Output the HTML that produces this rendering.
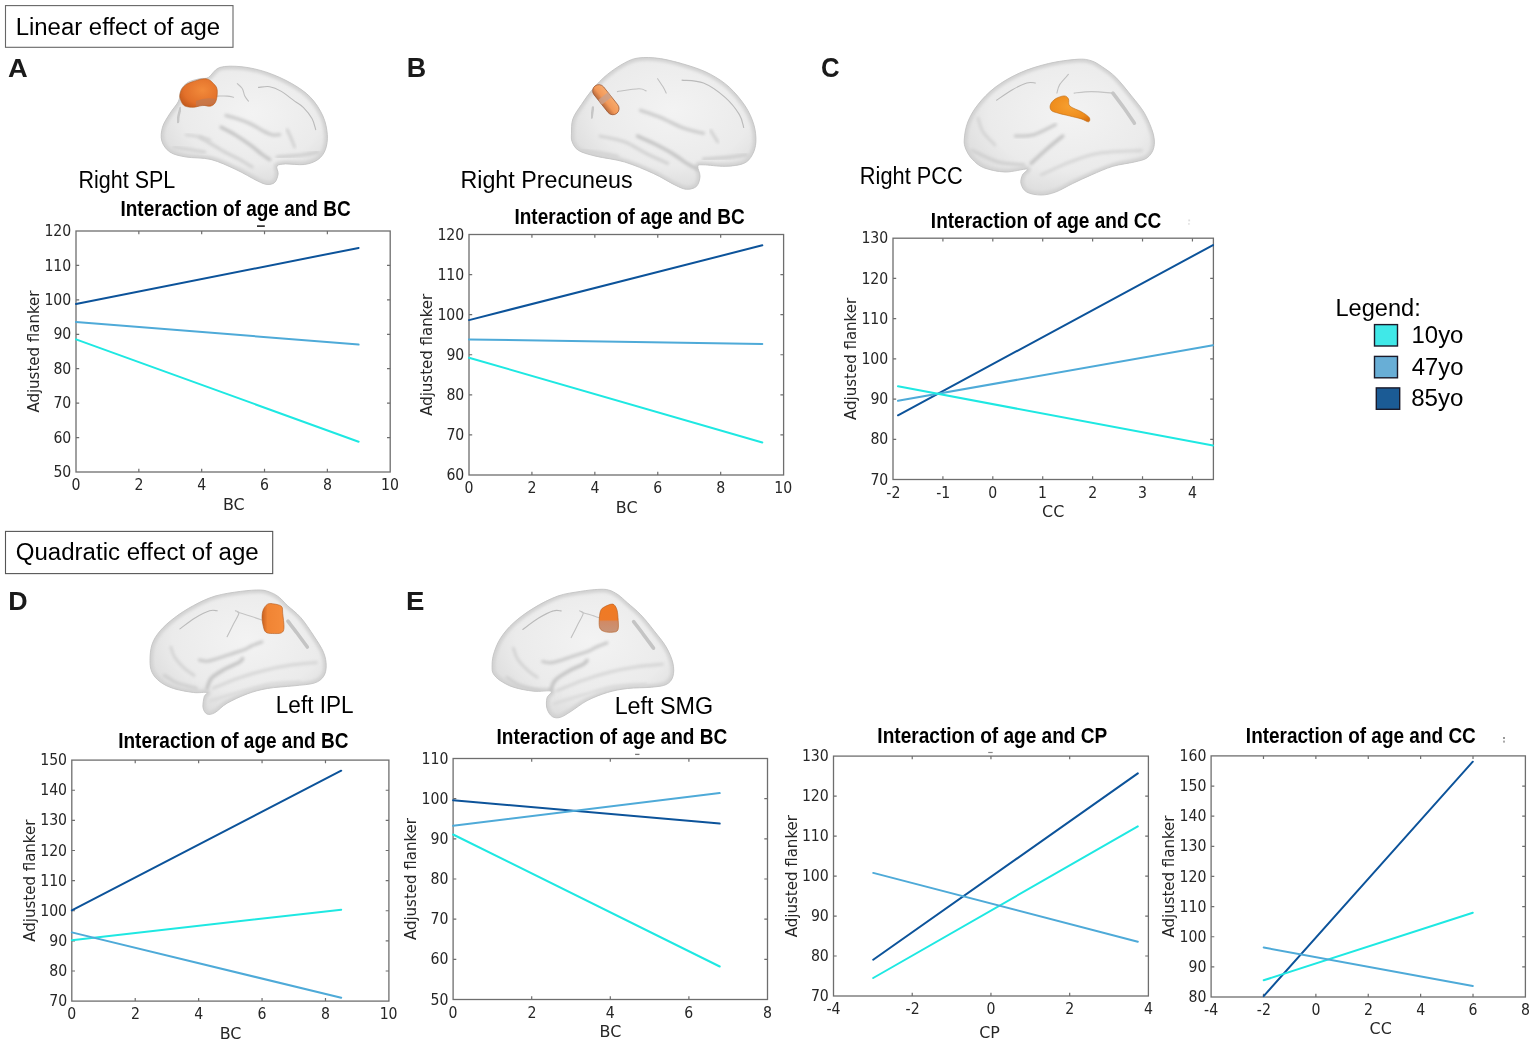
<!DOCTYPE html>
<html><head><meta charset="utf-8"><title>Figure</title>
<style>html,body{margin:0;padding:0;background:#fff;}svg{display:block;}</style></head>
<body><svg width="1535" height="1045" viewBox="0 0 1535 1045">
<defs>
<radialGradient id="brainfill" cx="0.55" cy="0.4" r="0.65"><stop offset="0" stop-color="#f3f3f3"/><stop offset="0.65" stop-color="#ebebeb"/><stop offset="1" stop-color="#dadada"/></radialGradient>
<radialGradient id="orA" cx="0.6" cy="0.4" r="0.7"><stop offset="0" stop-color="#f28a3a"/><stop offset="0.7" stop-color="#e2702a"/><stop offset="1" stop-color="#c45a1c"/></radialGradient>
<radialGradient id="orC" cx="0.5" cy="0.4" r="0.7"><stop offset="0" stop-color="#f7a030"/><stop offset="0.7" stop-color="#ee8c1c"/><stop offset="1" stop-color="#d87010"/></radialGradient>
<linearGradient id="orB" x1="0" y1="0" x2="0" y2="1"><stop offset="0" stop-color="#f7aa6c"/><stop offset="0.6" stop-color="#f29858"/><stop offset="1" stop-color="#b86a3c"/></linearGradient>
<linearGradient id="orD" x1="0" y1="0" x2="1" y2="0"><stop offset="0" stop-color="#c86020"/><stop offset="0.25" stop-color="#f08434"/><stop offset="1" stop-color="#f58c3c"/></linearGradient>
<linearGradient id="orE" x1="0" y1="0" x2="0" y2="1"><stop offset="0" stop-color="#f07a22"/><stop offset="0.55" stop-color="#ee7a28"/><stop offset="0.62" stop-color="#d08a66"/><stop offset="1" stop-color="#c89478"/></linearGradient>
<filter id="blur1" x="-20%" y="-20%" width="140%" height="140%"><feGaussianBlur stdDeviation="0.5"/></filter>
<filter id="blur2" x="-20%" y="-20%" width="140%" height="140%"><feGaussianBlur stdDeviation="1.6"/></filter>
</defs>
<rect width="1535" height="1045" fill="#fff"/>
<rect x="5.5" y="5.6" width="227.5" height="41.7" fill="none" stroke="#666" stroke-width="1.1"/>
<text x="15.69" y="35.00" font-family='"Liberation Sans", Arial, sans-serif' font-size="24.06" fill="#000" textLength="204.38" lengthAdjust="spacingAndGlyphs">Linear effect of age</text>
<rect x="5.5" y="531.4" width="267.2" height="42.2" fill="none" stroke="#555" stroke-width="1.1"/>
<text x="15.72" y="560.40" font-family='"Liberation Sans", Arial, sans-serif' font-size="23.91" fill="#000" textLength="242.95" lengthAdjust="spacingAndGlyphs">Quadratic effect of age</text>
<text x="7.92" y="76.60" font-family='"Liberation Sans", Arial, sans-serif' font-size="26.67" font-weight="bold" fill="#1a1a1a" textLength="19.73" lengthAdjust="spacingAndGlyphs">A</text>
<text x="406.65" y="76.50" font-family='"Liberation Sans", Arial, sans-serif' font-size="27.54" font-weight="bold" fill="#1a1a1a" textLength="19.42" lengthAdjust="spacingAndGlyphs">B</text>
<text x="821.07" y="76.50" font-family='"Liberation Sans", Arial, sans-serif' font-size="27.83" font-weight="bold" fill="#1a1a1a" textLength="18.63" lengthAdjust="spacingAndGlyphs">C</text>
<text x="8.26" y="609.70" font-family='"Liberation Sans", Arial, sans-serif' font-size="25.65" font-weight="bold" fill="#1a1a1a" textLength="19.38" lengthAdjust="spacingAndGlyphs">D</text>
<text x="406.01" y="609.60" font-family='"Liberation Sans", Arial, sans-serif' font-size="25.80" font-weight="bold" fill="#1a1a1a" textLength="18.42" lengthAdjust="spacingAndGlyphs">E</text>
<clipPath id="bc1"><path d="M208.5 77.4C211.8 75.5 214.1 69.3 219.7 67.5C225.3 65.7 234.2 66.0 242.1 66.8C250.0 67.6 258.7 69.6 267.0 72.4C275.3 75.2 284.6 79.4 291.8 83.6C299.1 87.8 305.3 91.9 310.5 97.3C315.7 102.7 320.1 109.8 322.9 116.0C325.7 122.2 326.9 129.0 327.3 134.6C327.7 140.2 326.9 145.4 325.4 149.6C323.8 153.8 321.5 157.0 318.0 159.5C314.5 162.0 309.7 163.8 304.3 164.5C298.9 165.2 290.2 163.7 285.6 163.9C281.1 164.2 278.2 164.3 277.0 166.0C275.8 167.7 278.5 171.3 278.1 174.0C277.7 176.7 276.6 180.7 274.7 182.4C272.8 184.1 269.9 184.7 267.0 184.4C264.1 184.1 262.2 183.2 257.0 180.7C251.8 178.2 243.6 173.0 235.9 169.5C228.2 166.0 219.3 161.6 211.0 159.5C202.7 157.4 192.9 158.2 186.1 157.0C179.2 155.8 173.9 154.7 169.9 152.0C165.9 149.3 163.0 145.0 161.8 140.9C160.6 136.8 161.2 131.8 162.5 127.2C163.8 122.6 167.2 117.9 169.9 113.5C172.6 109.1 176.8 104.9 178.6 101.0C180.4 97.1 179.4 93.1 181.0 90.0C182.6 86.9 184.8 84.3 188.0 82.4C191.2 80.5 196.6 79.5 200.0 78.7C203.4 77.9 205.2 79.3 208.5 77.4Z"/></clipPath>
<path d="M208.5 77.4C211.8 75.5 214.1 69.3 219.7 67.5C225.3 65.7 234.2 66.0 242.1 66.8C250.0 67.6 258.7 69.6 267.0 72.4C275.3 75.2 284.6 79.4 291.8 83.6C299.1 87.8 305.3 91.9 310.5 97.3C315.7 102.7 320.1 109.8 322.9 116.0C325.7 122.2 326.9 129.0 327.3 134.6C327.7 140.2 326.9 145.4 325.4 149.6C323.8 153.8 321.5 157.0 318.0 159.5C314.5 162.0 309.7 163.8 304.3 164.5C298.9 165.2 290.2 163.7 285.6 163.9C281.1 164.2 278.2 164.3 277.0 166.0C275.8 167.7 278.5 171.3 278.1 174.0C277.7 176.7 276.6 180.7 274.7 182.4C272.8 184.1 269.9 184.7 267.0 184.4C264.1 184.1 262.2 183.2 257.0 180.7C251.8 178.2 243.6 173.0 235.9 169.5C228.2 166.0 219.3 161.6 211.0 159.5C202.7 157.4 192.9 158.2 186.1 157.0C179.2 155.8 173.9 154.7 169.9 152.0C165.9 149.3 163.0 145.0 161.8 140.9C160.6 136.8 161.2 131.8 162.5 127.2C163.8 122.6 167.2 117.9 169.9 113.5C172.6 109.1 176.8 104.9 178.6 101.0C180.4 97.1 179.4 93.1 181.0 90.0C182.6 86.9 184.8 84.3 188.0 82.4C191.2 80.5 196.6 79.5 200.0 78.7C203.4 77.9 205.2 79.3 208.5 77.4Z" fill="url(#brainfill)"/>
<g clip-path="url(#bc1)">
<path d="M208.5 77.4C211.8 75.5 214.1 69.3 219.7 67.5C225.3 65.7 234.2 66.0 242.1 66.8C250.0 67.6 258.7 69.6 267.0 72.4C275.3 75.2 284.6 79.4 291.8 83.6C299.1 87.8 305.3 91.9 310.5 97.3C315.7 102.7 320.1 109.8 322.9 116.0C325.7 122.2 326.9 129.0 327.3 134.6C327.7 140.2 326.9 145.4 325.4 149.6C323.8 153.8 321.5 157.0 318.0 159.5C314.5 162.0 309.7 163.8 304.3 164.5C298.9 165.2 290.2 163.7 285.6 163.9C281.1 164.2 278.2 164.3 277.0 166.0C275.8 167.7 278.5 171.3 278.1 174.0C277.7 176.7 276.6 180.7 274.7 182.4C272.8 184.1 269.9 184.7 267.0 184.4C264.1 184.1 262.2 183.2 257.0 180.7C251.8 178.2 243.6 173.0 235.9 169.5C228.2 166.0 219.3 161.6 211.0 159.5C202.7 157.4 192.9 158.2 186.1 157.0C179.2 155.8 173.9 154.7 169.9 152.0C165.9 149.3 163.0 145.0 161.8 140.9C160.6 136.8 161.2 131.8 162.5 127.2C163.8 122.6 167.2 117.9 169.9 113.5C172.6 109.1 176.8 104.9 178.6 101.0C180.4 97.1 179.4 93.1 181.0 90.0C182.6 86.9 184.8 84.3 188.0 82.4C191.2 80.5 196.6 79.5 200.0 78.7C203.4 77.9 205.2 79.3 208.5 77.4Z" fill="none" stroke="#d2d2d2" stroke-width="6" filter="url(#blur2)"/>
<path d="M258.5 87.4C260.4 87.3 266.0 86.1 269.7 86.7C273.4 87.3 276.8 88.7 280.9 91.1C285.0 93.5 290.9 98.4 294.6 101.1C298.3 103.8 300.4 104.4 303.3 107.3C306.2 110.2 309.9 114.8 312.0 118.5C314.1 122.2 315.1 127.8 315.7 129.7" fill="none" stroke="#bababa" stroke-width="1.1" stroke-linecap="round" filter="url(#blur1)"/>
<path d="M237.3 83.6C238.1 84.4 241.1 86.5 242.3 88.6C243.6 90.7 243.8 94.0 244.8 96.1C245.8 98.2 247.9 100.3 248.5 101.1" fill="none" stroke="#c0c0c0" stroke-width="1.1" stroke-linecap="round" filter="url(#blur1)"/>
<path d="M217.4 96.1C219.1 96.1 224.7 95.9 227.4 96.1C230.1 96.3 232.6 97.1 233.6 97.3" fill="none" stroke="#c0c0c0" stroke-width="1.1" stroke-linecap="round" filter="url(#blur1)"/>
<path d="M226.0 115.5C227.9 116.0 233.3 117.4 237.3 118.7C241.3 120.0 245.7 121.5 249.8 123.5C254.0 125.5 258.5 128.6 262.2 130.5C265.9 132.4 269.3 134.1 272.2 134.8C275.1 135.5 278.4 134.6 279.6 134.6" fill="none" stroke="#cbcbcb" stroke-width="3.2" stroke-linecap="round" filter="url(#blur2)"/>
<path d="M221.1 127.2C223.4 128.4 230.0 131.7 234.8 134.6C239.6 137.5 245.2 141.3 249.8 144.6C254.4 147.9 258.9 152.0 262.2 154.5C265.5 157.0 268.4 158.7 269.7 159.5" fill="none" stroke="#c4c4c4" stroke-width="3.4" stroke-linecap="round" filter="url(#blur2)"/>
<path d="M200.0 137.1C202.1 138.3 208.2 142.1 212.4 144.6C216.6 147.1 220.3 149.6 224.9 152.1C229.5 154.6 235.2 157.0 239.8 159.5C244.4 162.0 250.1 165.8 252.2 167.0" fill="none" stroke="#d0d0d0" stroke-width="3.0" stroke-linecap="round" filter="url(#blur2)"/>
<path d="M277.1 157.0C279.8 156.8 288.5 156.2 293.3 155.8C298.1 155.4 301.6 155.1 305.7 154.5C309.8 153.9 316.1 152.5 318.2 152.1" fill="none" stroke="#cdcdcd" stroke-width="3.2" stroke-linecap="round" filter="url(#blur2)"/>
<path d="M287.1 129.7C287.8 131.1 289.8 135.1 291.0 138.0C292.2 140.9 294.0 145.6 294.6 147.1" fill="none" stroke="#cecece" stroke-width="2.6" stroke-linecap="round" filter="url(#blur2)"/>
<path d="M180.5 108.0C180.2 109.3 178.9 113.7 178.5 116.0C178.1 118.3 178.1 121.0 178.0 122.0" fill="none" stroke="#c6c6c6" stroke-width="2.5" stroke-linecap="round" filter="url(#blur1)"/>
<path d="M173.7 147.1C176.2 147.5 183.8 148.7 189.0 149.5C194.2 150.3 202.2 151.7 204.8 152.1" fill="none" stroke="#d2d2d2" stroke-width="3.0" stroke-linecap="round" filter="url(#blur2)"/>
<path d="M186.1 134.7C188.4 135.1 196.0 136.1 200.0 137.0C204.0 137.9 208.3 139.5 210.0 140.0" fill="none" stroke="#d2d2d2" stroke-width="2.6" stroke-linecap="round" filter="url(#blur2)"/>
</g>
<path d="M208.5 77.4C211.8 75.5 214.1 69.3 219.7 67.5C225.3 65.7 234.2 66.0 242.1 66.8C250.0 67.6 258.7 69.6 267.0 72.4C275.3 75.2 284.6 79.4 291.8 83.6C299.1 87.8 305.3 91.9 310.5 97.3C315.7 102.7 320.1 109.8 322.9 116.0C325.7 122.2 326.9 129.0 327.3 134.6C327.7 140.2 326.9 145.4 325.4 149.6C323.8 153.8 321.5 157.0 318.0 159.5C314.5 162.0 309.7 163.8 304.3 164.5C298.9 165.2 290.2 163.7 285.6 163.9C281.1 164.2 278.2 164.3 277.0 166.0C275.8 167.7 278.5 171.3 278.1 174.0C277.7 176.7 276.6 180.7 274.7 182.4C272.8 184.1 269.9 184.7 267.0 184.4C264.1 184.1 262.2 183.2 257.0 180.7C251.8 178.2 243.6 173.0 235.9 169.5C228.2 166.0 219.3 161.6 211.0 159.5C202.7 157.4 192.9 158.2 186.1 157.0C179.2 155.8 173.9 154.7 169.9 152.0C165.9 149.3 163.0 145.0 161.8 140.9C160.6 136.8 161.2 131.8 162.5 127.2C163.8 122.6 167.2 117.9 169.9 113.5C172.6 109.1 176.8 104.9 178.6 101.0C180.4 97.1 179.4 93.1 181.0 90.0C182.6 86.9 184.8 84.3 188.0 82.4C191.2 80.5 196.6 79.5 200.0 78.7C203.4 77.9 205.2 79.3 208.5 77.4Z" fill="none" stroke="#c4c4c4" stroke-width="0.9"/>
<path d="M179.9 94.8C180.3 92.4 181.5 88.9 183.6 86.7C185.7 84.5 188.6 83.1 192.3 81.8C196.0 80.5 202.5 78.4 206.0 78.7C209.5 79.0 211.6 81.7 213.5 83.6C215.4 85.5 216.8 87.0 217.2 89.9C217.6 92.8 217.0 98.3 216.0 101.0C215.0 103.7 213.3 105.3 211.0 106.0C208.7 106.7 205.2 105.2 202.3 105.4C199.4 105.6 196.5 107.2 193.6 107.3C190.7 107.4 187.0 107.0 184.9 106.0C182.8 105.0 181.9 102.9 181.1 101.0C180.3 99.1 179.5 97.2 179.9 94.8Z" fill="url(#orA)" stroke="#b35a1e" stroke-width="0.6"/>
<path d="M196 101 Q205 97 216 99 L214 104 Q205 107 196 106Z" fill="#b47a5c" opacity="0.55"/>
<clipPath id="bc2"><path d="M571.5 133.2C571.6 129.4 571.2 123.7 572.9 118.9C574.6 114.1 578.1 109.5 581.5 104.5C584.9 99.5 588.7 93.8 593.0 88.8C597.3 83.8 602.1 78.7 607.4 74.4C612.7 70.1 619.4 65.7 624.6 62.9C629.9 60.1 632.9 58.6 638.9 57.9C644.9 57.2 652.1 57.3 660.5 58.6C668.9 59.9 680.8 63.2 689.2 65.8C697.6 68.4 704.0 70.8 710.7 74.4C717.4 78.0 723.6 82.0 729.4 87.3C735.1 92.6 741.1 99.8 745.2 106.0C749.3 112.2 752.0 118.6 753.8 124.6C755.6 130.6 756.1 136.9 755.9 141.9C755.6 146.9 754.3 151.2 752.3 154.8C750.3 158.4 748.2 161.5 743.7 163.4C739.2 165.3 731.8 166.1 725.1 166.3C718.4 166.5 708.0 164.8 703.5 164.8C699.0 164.8 698.4 164.4 697.8 166.3C697.2 168.2 700.2 173.0 700.0 176.3C699.8 179.7 698.7 184.2 696.4 186.4C694.1 188.6 689.9 189.4 686.3 189.2C682.7 188.9 680.3 187.5 674.8 184.9C669.3 182.3 661.7 177.2 653.3 173.4C644.9 169.6 634.2 164.9 624.6 162.0C615.0 159.1 603.5 158.1 595.9 156.2C588.2 154.3 582.7 152.9 578.7 150.5C574.8 148.1 573.4 144.8 572.2 141.9C571.0 139.0 571.4 137.0 571.5 133.2Z"/></clipPath>
<path d="M571.5 133.2C571.6 129.4 571.2 123.7 572.9 118.9C574.6 114.1 578.1 109.5 581.5 104.5C584.9 99.5 588.7 93.8 593.0 88.8C597.3 83.8 602.1 78.7 607.4 74.4C612.7 70.1 619.4 65.7 624.6 62.9C629.9 60.1 632.9 58.6 638.9 57.9C644.9 57.2 652.1 57.3 660.5 58.6C668.9 59.9 680.8 63.2 689.2 65.8C697.6 68.4 704.0 70.8 710.7 74.4C717.4 78.0 723.6 82.0 729.4 87.3C735.1 92.6 741.1 99.8 745.2 106.0C749.3 112.2 752.0 118.6 753.8 124.6C755.6 130.6 756.1 136.9 755.9 141.9C755.6 146.9 754.3 151.2 752.3 154.8C750.3 158.4 748.2 161.5 743.7 163.4C739.2 165.3 731.8 166.1 725.1 166.3C718.4 166.5 708.0 164.8 703.5 164.8C699.0 164.8 698.4 164.4 697.8 166.3C697.2 168.2 700.2 173.0 700.0 176.3C699.8 179.7 698.7 184.2 696.4 186.4C694.1 188.6 689.9 189.4 686.3 189.2C682.7 188.9 680.3 187.5 674.8 184.9C669.3 182.3 661.7 177.2 653.3 173.4C644.9 169.6 634.2 164.9 624.6 162.0C615.0 159.1 603.5 158.1 595.9 156.2C588.2 154.3 582.7 152.9 578.7 150.5C574.8 148.1 573.4 144.8 572.2 141.9C571.0 139.0 571.4 137.0 571.5 133.2Z" fill="url(#brainfill)"/>
<g clip-path="url(#bc2)">
<path d="M571.5 133.2C571.6 129.4 571.2 123.7 572.9 118.9C574.6 114.1 578.1 109.5 581.5 104.5C584.9 99.5 588.7 93.8 593.0 88.8C597.3 83.8 602.1 78.7 607.4 74.4C612.7 70.1 619.4 65.7 624.6 62.9C629.9 60.1 632.9 58.6 638.9 57.9C644.9 57.2 652.1 57.3 660.5 58.6C668.9 59.9 680.8 63.2 689.2 65.8C697.6 68.4 704.0 70.8 710.7 74.4C717.4 78.0 723.6 82.0 729.4 87.3C735.1 92.6 741.1 99.8 745.2 106.0C749.3 112.2 752.0 118.6 753.8 124.6C755.6 130.6 756.1 136.9 755.9 141.9C755.6 146.9 754.3 151.2 752.3 154.8C750.3 158.4 748.2 161.5 743.7 163.4C739.2 165.3 731.8 166.1 725.1 166.3C718.4 166.5 708.0 164.8 703.5 164.8C699.0 164.8 698.4 164.4 697.8 166.3C697.2 168.2 700.2 173.0 700.0 176.3C699.8 179.7 698.7 184.2 696.4 186.4C694.1 188.6 689.9 189.4 686.3 189.2C682.7 188.9 680.3 187.5 674.8 184.9C669.3 182.3 661.7 177.2 653.3 173.4C644.9 169.6 634.2 164.9 624.6 162.0C615.0 159.1 603.5 158.1 595.9 156.2C588.2 154.3 582.7 152.9 578.7 150.5C574.8 148.1 573.4 144.8 572.2 141.9C571.0 139.0 571.4 137.0 571.5 133.2Z" fill="none" stroke="#d2d2d2" stroke-width="6" filter="url(#blur2)"/>
<path d="M682.0 80.1C685.6 80.6 696.3 80.1 703.5 83.0C710.7 85.9 719.1 92.1 725.1 97.4C731.1 102.7 736.3 109.6 739.4 114.6C742.5 119.6 743.0 125.3 743.7 127.5" fill="none" stroke="#bababa" stroke-width="1.1" stroke-linecap="round" filter="url(#blur1)"/>
<path d="M657.6 78.7C658.5 80.1 661.9 84.9 663.3 87.3C664.7 89.7 665.7 92.1 666.2 93.1" fill="none" stroke="#c0c0c0" stroke-width="1.1" stroke-linecap="round" filter="url(#blur1)"/>
<path d="M617.4 91.6C621.0 91.1 634.1 88.9 638.9 88.8C643.7 88.7 644.9 90.6 646.1 90.9" fill="none" stroke="#c0c0c0" stroke-width="1.1" stroke-linecap="round" filter="url(#blur1)"/>
<path d="M640.4 110.3C643.8 111.5 653.6 114.6 660.5 117.5C667.4 120.4 676.0 125.1 682.0 127.5C688.0 129.9 692.8 130.8 696.4 131.8C700.0 132.8 702.3 133.1 703.5 133.3" fill="none" stroke="#cbcbcb" stroke-width="3.2" stroke-linecap="round" filter="url(#blur2)"/>
<path d="M637.5 136.1C640.1 137.3 647.5 140.4 653.3 143.3C659.0 146.2 666.0 149.7 672.0 153.3C678.0 156.9 684.9 162.2 689.2 164.8C693.5 167.4 696.4 168.4 697.8 169.1" fill="none" stroke="#c4c4c4" stroke-width="3.4" stroke-linecap="round" filter="url(#blur2)"/>
<path d="M600.2 136.1C604.3 137.1 617.0 139.0 624.6 141.9C632.2 144.8 638.9 149.7 646.1 153.3C653.3 156.9 664.1 161.7 667.7 163.4" fill="none" stroke="#d0d0d0" stroke-width="3.0" stroke-linecap="round" filter="url(#blur2)"/>
<path d="M703.5 159.1C707.1 158.9 717.9 158.4 725.1 157.7C732.3 157.0 743.0 155.3 746.6 154.8" fill="none" stroke="#cdcdcd" stroke-width="3.2" stroke-linecap="round" filter="url(#blur2)"/>
<path d="M710.7 130.4C711.2 131.3 712.8 134.1 714.0 136.0C715.2 137.9 717.2 140.9 717.9 141.9" fill="none" stroke="#cecece" stroke-width="2.6" stroke-linecap="round" filter="url(#blur2)"/>
<path d="M593.0 107.4C592.8 109.1 591.8 115.8 591.6 117.5" fill="none" stroke="#c6c6c6" stroke-width="2.5" stroke-linecap="round" filter="url(#blur1)"/>
<path d="M581.5 150.5C584.6 150.9 594.0 152.1 600.0 153.0C606.0 153.9 614.5 155.7 617.4 156.2" fill="none" stroke="#d2d2d2" stroke-width="3.0" stroke-linecap="round" filter="url(#blur2)"/>
</g>
<path d="M571.5 133.2C571.6 129.4 571.2 123.7 572.9 118.9C574.6 114.1 578.1 109.5 581.5 104.5C584.9 99.5 588.7 93.8 593.0 88.8C597.3 83.8 602.1 78.7 607.4 74.4C612.7 70.1 619.4 65.7 624.6 62.9C629.9 60.1 632.9 58.6 638.9 57.9C644.9 57.2 652.1 57.3 660.5 58.6C668.9 59.9 680.8 63.2 689.2 65.8C697.6 68.4 704.0 70.8 710.7 74.4C717.4 78.0 723.6 82.0 729.4 87.3C735.1 92.6 741.1 99.8 745.2 106.0C749.3 112.2 752.0 118.6 753.8 124.6C755.6 130.6 756.1 136.9 755.9 141.9C755.6 146.9 754.3 151.2 752.3 154.8C750.3 158.4 748.2 161.5 743.7 163.4C739.2 165.3 731.8 166.1 725.1 166.3C718.4 166.5 708.0 164.8 703.5 164.8C699.0 164.8 698.4 164.4 697.8 166.3C697.2 168.2 700.2 173.0 700.0 176.3C699.8 179.7 698.7 184.2 696.4 186.4C694.1 188.6 689.9 189.4 686.3 189.2C682.7 188.9 680.3 187.5 674.8 184.9C669.3 182.3 661.7 177.2 653.3 173.4C644.9 169.6 634.2 164.9 624.6 162.0C615.0 159.1 603.5 158.1 595.9 156.2C588.2 154.3 582.7 152.9 578.7 150.5C574.8 148.1 573.4 144.8 572.2 141.9C571.0 139.0 571.4 137.0 571.5 133.2Z" fill="none" stroke="#c4c4c4" stroke-width="0.9"/>
<g transform="translate(605.85,99.7) rotate(51.6)"><rect x="-17.5" y="-6.2" width="35" height="12.4" rx="6.2" fill="url(#orB)" stroke="#9a5530" stroke-width="0.7"/><rect x="-4.5" y="-6.2" width="6" height="12.4" fill="#c9a08c" opacity="0.8"/></g>
<clipPath id="bc3"><path d="M964.3 139.0C964.6 134.5 965.6 127.5 967.9 121.8C970.2 116.0 973.5 110.2 978.0 104.5C982.5 98.8 988.3 92.5 995.2 87.3C1002.1 82.0 1010.8 77.0 1019.6 73.0C1028.5 69.0 1038.7 65.9 1048.3 63.6C1057.9 61.3 1069.8 59.8 1077.0 59.3C1084.2 58.8 1087.1 59.5 1091.4 60.8C1095.7 62.1 1098.7 64.5 1102.8 67.2C1106.9 70.0 1111.0 72.5 1115.8 77.3C1120.6 82.1 1126.7 89.9 1131.5 95.9C1136.3 101.9 1140.9 107.0 1144.5 113.2C1148.1 119.4 1151.5 127.6 1153.1 133.3C1154.6 139.0 1154.8 143.5 1153.8 147.6C1152.8 151.7 1150.5 155.3 1147.3 157.7C1144.1 160.1 1140.1 160.6 1134.4 162.0C1128.7 163.4 1120.1 164.2 1112.9 166.3C1105.7 168.5 1098.1 172.0 1091.4 174.9C1084.7 177.8 1078.7 180.6 1072.7 183.5C1066.7 186.4 1060.8 190.2 1055.5 192.1C1050.2 194.0 1045.9 195.0 1041.1 195.0C1036.3 195.0 1030.1 194.0 1026.8 192.1C1023.4 190.2 1021.7 186.4 1021.0 183.5C1020.3 180.6 1021.5 177.3 1022.5 174.9C1023.5 172.5 1029.7 169.6 1026.8 169.1C1023.9 168.6 1012.4 172.2 1005.2 172.0C998.0 171.8 989.2 169.8 983.7 167.7C978.2 165.5 975.2 162.2 972.2 159.1C969.2 156.0 967.1 152.3 965.8 149.0C964.5 145.7 963.9 143.5 964.3 139.0Z"/></clipPath>
<path d="M964.3 139.0C964.6 134.5 965.6 127.5 967.9 121.8C970.2 116.0 973.5 110.2 978.0 104.5C982.5 98.8 988.3 92.5 995.2 87.3C1002.1 82.0 1010.8 77.0 1019.6 73.0C1028.5 69.0 1038.7 65.9 1048.3 63.6C1057.9 61.3 1069.8 59.8 1077.0 59.3C1084.2 58.8 1087.1 59.5 1091.4 60.8C1095.7 62.1 1098.7 64.5 1102.8 67.2C1106.9 70.0 1111.0 72.5 1115.8 77.3C1120.6 82.1 1126.7 89.9 1131.5 95.9C1136.3 101.9 1140.9 107.0 1144.5 113.2C1148.1 119.4 1151.5 127.6 1153.1 133.3C1154.6 139.0 1154.8 143.5 1153.8 147.6C1152.8 151.7 1150.5 155.3 1147.3 157.7C1144.1 160.1 1140.1 160.6 1134.4 162.0C1128.7 163.4 1120.1 164.2 1112.9 166.3C1105.7 168.5 1098.1 172.0 1091.4 174.9C1084.7 177.8 1078.7 180.6 1072.7 183.5C1066.7 186.4 1060.8 190.2 1055.5 192.1C1050.2 194.0 1045.9 195.0 1041.1 195.0C1036.3 195.0 1030.1 194.0 1026.8 192.1C1023.4 190.2 1021.7 186.4 1021.0 183.5C1020.3 180.6 1021.5 177.3 1022.5 174.9C1023.5 172.5 1029.7 169.6 1026.8 169.1C1023.9 168.6 1012.4 172.2 1005.2 172.0C998.0 171.8 989.2 169.8 983.7 167.7C978.2 165.5 975.2 162.2 972.2 159.1C969.2 156.0 967.1 152.3 965.8 149.0C964.5 145.7 963.9 143.5 964.3 139.0Z" fill="url(#brainfill)"/>
<g clip-path="url(#bc3)">
<path d="M964.3 139.0C964.6 134.5 965.6 127.5 967.9 121.8C970.2 116.0 973.5 110.2 978.0 104.5C982.5 98.8 988.3 92.5 995.2 87.3C1002.1 82.0 1010.8 77.0 1019.6 73.0C1028.5 69.0 1038.7 65.9 1048.3 63.6C1057.9 61.3 1069.8 59.8 1077.0 59.3C1084.2 58.8 1087.1 59.5 1091.4 60.8C1095.7 62.1 1098.7 64.5 1102.8 67.2C1106.9 70.0 1111.0 72.5 1115.8 77.3C1120.6 82.1 1126.7 89.9 1131.5 95.9C1136.3 101.9 1140.9 107.0 1144.5 113.2C1148.1 119.4 1151.5 127.6 1153.1 133.3C1154.6 139.0 1154.8 143.5 1153.8 147.6C1152.8 151.7 1150.5 155.3 1147.3 157.7C1144.1 160.1 1140.1 160.6 1134.4 162.0C1128.7 163.4 1120.1 164.2 1112.9 166.3C1105.7 168.5 1098.1 172.0 1091.4 174.9C1084.7 177.8 1078.7 180.6 1072.7 183.5C1066.7 186.4 1060.8 190.2 1055.5 192.1C1050.2 194.0 1045.9 195.0 1041.1 195.0C1036.3 195.0 1030.1 194.0 1026.8 192.1C1023.4 190.2 1021.7 186.4 1021.0 183.5C1020.3 180.6 1021.5 177.3 1022.5 174.9C1023.5 172.5 1029.7 169.6 1026.8 169.1C1023.9 168.6 1012.4 172.2 1005.2 172.0C998.0 171.8 989.2 169.8 983.7 167.7C978.2 165.5 975.2 162.2 972.2 159.1C969.2 156.0 967.1 152.3 965.8 149.0C964.5 145.7 963.9 143.5 964.3 139.0Z" fill="none" stroke="#d2d2d2" stroke-width="6" filter="url(#blur2)"/>
<path d="M996.6 100.2C999.2 98.5 1007.0 92.9 1012.0 90.0C1017.0 87.1 1022.9 84.2 1026.8 83.0C1030.7 81.8 1034.0 83.0 1035.4 83.0" fill="none" stroke="#bababa" stroke-width="1.1" stroke-linecap="round" filter="url(#blur1)"/>
<path d="M1068.4 74.4C1067.0 76.1 1061.7 81.3 1059.8 84.4C1057.9 87.5 1057.4 91.6 1056.9 93.1" fill="none" stroke="#c0c0c0" stroke-width="1.1" stroke-linecap="round" filter="url(#blur1)"/>
<path d="M1074.1 93.1C1077.0 92.8 1084.9 91.6 1091.4 91.6C1097.9 91.6 1109.3 92.8 1112.9 93.1" fill="none" stroke="#c4c4c4" stroke-width="1.1" stroke-linecap="round" filter="url(#blur1)"/>
<path d="M1112.9 93.1C1114.8 95.6 1120.4 103.0 1124.0 108.0C1127.6 113.0 1132.7 120.7 1134.4 123.2" fill="none" stroke="#c6c6c6" stroke-width="3.6" stroke-linecap="round" filter="url(#blur1)"/>
<path d="M1015.3 136.1C1018.4 135.9 1027.2 136.6 1033.9 134.7C1040.6 132.8 1051.9 126.3 1055.5 124.6" fill="none" stroke="#c8c8c8" stroke-width="3.0" stroke-linecap="round" filter="url(#blur2)"/>
<path d="M1031.1 163.4C1033.7 161.0 1041.6 153.6 1046.9 149.0C1052.2 144.4 1060.1 138.2 1062.7 136.1" fill="none" stroke="#c4c4c4" stroke-width="3.6" stroke-linecap="round" filter="url(#blur2)"/>
<path d="M1041.1 174.9C1045.9 172.8 1060.4 165.6 1070.0 162.0C1079.6 158.4 1086.6 155.2 1098.5 153.3C1110.4 151.4 1134.4 151.0 1141.6 150.5" fill="none" stroke="#d4d4d4" stroke-width="2.8" stroke-linecap="round" filter="url(#blur2)"/>
<path d="M972.2 150.5C976.5 152.4 989.5 159.6 998.1 162.0C1006.7 164.4 1019.6 164.3 1023.9 164.8" fill="none" stroke="#cecece" stroke-width="3.0" stroke-linecap="round" filter="url(#blur2)"/>
<path d="M978.0 118.0C978.8 120.3 980.2 127.5 983.0 132.0C985.8 136.5 993.0 142.8 995.0 145.0" fill="none" stroke="#d2d2d2" stroke-width="2.6" stroke-linecap="round" filter="url(#blur2)"/>
</g>
<path d="M964.3 139.0C964.6 134.5 965.6 127.5 967.9 121.8C970.2 116.0 973.5 110.2 978.0 104.5C982.5 98.8 988.3 92.5 995.2 87.3C1002.1 82.0 1010.8 77.0 1019.6 73.0C1028.5 69.0 1038.7 65.9 1048.3 63.6C1057.9 61.3 1069.8 59.8 1077.0 59.3C1084.2 58.8 1087.1 59.5 1091.4 60.8C1095.7 62.1 1098.7 64.5 1102.8 67.2C1106.9 70.0 1111.0 72.5 1115.8 77.3C1120.6 82.1 1126.7 89.9 1131.5 95.9C1136.3 101.9 1140.9 107.0 1144.5 113.2C1148.1 119.4 1151.5 127.6 1153.1 133.3C1154.6 139.0 1154.8 143.5 1153.8 147.6C1152.8 151.7 1150.5 155.3 1147.3 157.7C1144.1 160.1 1140.1 160.6 1134.4 162.0C1128.7 163.4 1120.1 164.2 1112.9 166.3C1105.7 168.5 1098.1 172.0 1091.4 174.9C1084.7 177.8 1078.7 180.6 1072.7 183.5C1066.7 186.4 1060.8 190.2 1055.5 192.1C1050.2 194.0 1045.9 195.0 1041.1 195.0C1036.3 195.0 1030.1 194.0 1026.8 192.1C1023.4 190.2 1021.7 186.4 1021.0 183.5C1020.3 180.6 1021.5 177.3 1022.5 174.9C1023.5 172.5 1029.7 169.6 1026.8 169.1C1023.9 168.6 1012.4 172.2 1005.2 172.0C998.0 171.8 989.2 169.8 983.7 167.7C978.2 165.5 975.2 162.2 972.2 159.1C969.2 156.0 967.1 152.3 965.8 149.0C964.5 145.7 963.9 143.5 964.3 139.0Z" fill="none" stroke="#c4c4c4" stroke-width="0.9"/>
<path d="M1050.5 104.5C1051.2 102.6 1053.2 100.2 1055.5 98.8C1057.8 97.4 1061.9 95.9 1064.1 95.9C1066.2 95.9 1067.5 97.1 1068.4 98.8C1069.4 100.5 1067.7 103.8 1069.8 106.0C1071.9 108.2 1078.1 109.8 1081.3 111.7C1084.5 113.6 1088.0 115.8 1089.2 117.5C1090.4 119.2 1089.8 121.6 1088.5 121.8C1087.2 122.0 1084.4 119.9 1081.3 118.9C1078.2 117.9 1073.6 117.0 1069.8 116.0C1066.0 115.0 1061.4 114.2 1058.3 113.2C1055.2 112.2 1052.5 111.8 1051.2 110.3C1049.9 108.8 1049.8 106.4 1050.5 104.5Z" fill="url(#orC)" stroke="#c06a10" stroke-width="0.6"/>
<clipPath id="bc4"><path d="M150.0 660.4C150.0 655.7 150.4 649.2 152.1 644.3C153.8 639.4 156.3 635.4 160.1 630.9C163.9 626.4 169.2 621.7 174.8 617.5C180.4 613.3 186.9 609.1 193.6 605.5C200.3 601.9 207.2 598.5 215.0 596.1C222.8 593.8 232.9 592.4 240.5 591.4C248.1 590.4 255.5 589.8 260.6 590.0C265.7 590.2 268.2 591.5 271.3 592.7C274.4 593.9 276.6 595.3 279.3 597.4C282.0 599.5 283.8 602.1 287.4 605.5C291.0 608.9 296.2 612.4 300.7 617.5C305.1 622.6 310.3 630.5 314.1 636.3C317.9 642.1 321.5 647.4 323.5 652.3C325.5 657.2 326.2 661.7 326.2 665.7C326.2 669.7 325.5 673.6 323.5 676.5C321.5 679.4 319.0 681.6 314.1 683.1C309.2 684.6 301.9 684.9 294.1 685.8C286.3 686.7 275.1 687.1 267.3 688.5C259.5 689.9 253.9 691.4 247.2 693.9C240.5 696.4 232.5 700.1 227.1 703.2C221.7 706.3 218.3 710.8 215.0 712.6C211.7 714.4 209.0 714.9 207.0 714.0C205.0 713.1 203.4 710.2 203.0 707.3C202.6 704.4 203.6 699.0 204.3 696.5C205.0 694.0 208.8 693.2 207.0 692.5C205.2 691.8 199.2 693.2 193.6 692.5C188.0 691.8 179.1 690.3 173.5 688.5C167.9 686.7 163.7 684.5 160.1 681.8C156.5 679.1 153.8 676.0 152.1 672.4C150.4 668.8 150.0 665.1 150.0 660.4Z"/></clipPath>
<path d="M150.0 660.4C150.0 655.7 150.4 649.2 152.1 644.3C153.8 639.4 156.3 635.4 160.1 630.9C163.9 626.4 169.2 621.7 174.8 617.5C180.4 613.3 186.9 609.1 193.6 605.5C200.3 601.9 207.2 598.5 215.0 596.1C222.8 593.8 232.9 592.4 240.5 591.4C248.1 590.4 255.5 589.8 260.6 590.0C265.7 590.2 268.2 591.5 271.3 592.7C274.4 593.9 276.6 595.3 279.3 597.4C282.0 599.5 283.8 602.1 287.4 605.5C291.0 608.9 296.2 612.4 300.7 617.5C305.1 622.6 310.3 630.5 314.1 636.3C317.9 642.1 321.5 647.4 323.5 652.3C325.5 657.2 326.2 661.7 326.2 665.7C326.2 669.7 325.5 673.6 323.5 676.5C321.5 679.4 319.0 681.6 314.1 683.1C309.2 684.6 301.9 684.9 294.1 685.8C286.3 686.7 275.1 687.1 267.3 688.5C259.5 689.9 253.9 691.4 247.2 693.9C240.5 696.4 232.5 700.1 227.1 703.2C221.7 706.3 218.3 710.8 215.0 712.6C211.7 714.4 209.0 714.9 207.0 714.0C205.0 713.1 203.4 710.2 203.0 707.3C202.6 704.4 203.6 699.0 204.3 696.5C205.0 694.0 208.8 693.2 207.0 692.5C205.2 691.8 199.2 693.2 193.6 692.5C188.0 691.8 179.1 690.3 173.5 688.5C167.9 686.7 163.7 684.5 160.1 681.8C156.5 679.1 153.8 676.0 152.1 672.4C150.4 668.8 150.0 665.1 150.0 660.4Z" fill="url(#brainfill)"/>
<g clip-path="url(#bc4)">
<path d="M150.0 660.4C150.0 655.7 150.4 649.2 152.1 644.3C153.8 639.4 156.3 635.4 160.1 630.9C163.9 626.4 169.2 621.7 174.8 617.5C180.4 613.3 186.9 609.1 193.6 605.5C200.3 601.9 207.2 598.5 215.0 596.1C222.8 593.8 232.9 592.4 240.5 591.4C248.1 590.4 255.5 589.8 260.6 590.0C265.7 590.2 268.2 591.5 271.3 592.7C274.4 593.9 276.6 595.3 279.3 597.4C282.0 599.5 283.8 602.1 287.4 605.5C291.0 608.9 296.2 612.4 300.7 617.5C305.1 622.6 310.3 630.5 314.1 636.3C317.9 642.1 321.5 647.4 323.5 652.3C325.5 657.2 326.2 661.7 326.2 665.7C326.2 669.7 325.5 673.6 323.5 676.5C321.5 679.4 319.0 681.6 314.1 683.1C309.2 684.6 301.9 684.9 294.1 685.8C286.3 686.7 275.1 687.1 267.3 688.5C259.5 689.9 253.9 691.4 247.2 693.9C240.5 696.4 232.5 700.1 227.1 703.2C221.7 706.3 218.3 710.8 215.0 712.6C211.7 714.4 209.0 714.9 207.0 714.0C205.0 713.1 203.4 710.2 203.0 707.3C202.6 704.4 203.6 699.0 204.3 696.5C205.0 694.0 208.8 693.2 207.0 692.5C205.2 691.8 199.2 693.2 193.6 692.5C188.0 691.8 179.1 690.3 173.5 688.5C167.9 686.7 163.7 684.5 160.1 681.8C156.5 679.1 153.8 676.0 152.1 672.4C150.4 668.8 150.0 665.1 150.0 660.4Z" fill="none" stroke="#d2d2d2" stroke-width="6" filter="url(#blur2)"/>
<path d="M179.9 628.9C182.4 627.1 190.1 621.0 195.0 618.0C199.9 615.0 205.9 612.0 209.6 610.8C213.3 609.6 216.0 610.8 217.3 610.8" fill="none" stroke="#bababa" stroke-width="1.1" stroke-linecap="round" filter="url(#blur1)"/>
<path d="M235.4 610.8C236.0 611.2 239.1 611.2 238.8 613.4C238.5 615.6 235.6 619.9 233.6 623.8C231.6 627.7 228.2 634.6 227.1 636.7" fill="none" stroke="#c0c0c0" stroke-width="1.1" stroke-linecap="round" filter="url(#blur1)"/>
<path d="M237.5 612.1C239.6 612.8 245.9 614.7 250.0 616.0C254.1 617.3 260.0 619.3 262.0 620.0" fill="none" stroke="#c4c4c4" stroke-width="1.1" stroke-linecap="round" filter="url(#blur1)"/>
<path d="M199.3 659.9C200.6 660.1 204.0 661.4 207.0 661.2C210.0 661.0 213.0 659.9 217.3 658.6C221.6 657.3 228.3 655.0 232.8 653.5C237.3 652.0 241.3 650.9 244.5 649.6C247.7 648.3 249.1 647.0 252.0 645.7C254.9 644.4 260.3 642.5 262.0 641.9" fill="none" stroke="#c8c8c8" stroke-width="3.0" stroke-linecap="round" filter="url(#blur2)"/>
<path d="M207.0 688.4C207.8 686.7 208.6 681.2 211.6 678.0C214.6 674.8 220.5 671.6 225.0 669.0C229.5 666.4 235.9 664.2 238.8 662.5C241.7 660.8 242.0 659.3 242.6 658.7" fill="none" stroke="#c4c4c4" stroke-width="3.6" stroke-linecap="round" filter="url(#blur2)"/>
<path d="M170.8 647.0C171.5 648.7 172.5 653.8 174.7 657.3C176.9 660.8 180.6 664.7 183.8 667.7C187.0 670.7 192.4 674.1 194.1 675.4" fill="none" stroke="#d0d0d0" stroke-width="2.6" stroke-linecap="round" filter="url(#blur2)"/>
<path d="M164.4 675.4C166.6 676.7 171.9 681.0 177.3 683.2C182.7 685.4 193.5 687.5 196.7 688.4" fill="none" stroke="#cecece" stroke-width="3.0" stroke-linecap="round" filter="url(#blur2)"/>
<path d="M287.9 621.2C289.4 623.2 293.8 628.7 297.0 633.0C300.2 637.3 305.6 644.7 307.3 647.0" fill="none" stroke="#c4c4c4" stroke-width="3.6" stroke-linecap="round" filter="url(#blur1)"/>
<path d="M212.9 688.4C217.2 686.7 230.2 681.0 238.8 678.0C247.4 675.0 256.0 672.4 264.6 670.3C273.2 668.1 281.9 666.4 290.5 665.1C299.1 663.8 312.0 662.9 316.3 662.5" fill="none" stroke="#d4d4d4" stroke-width="2.8" stroke-linecap="round" filter="url(#blur2)"/>
<path d="M210.0 701.0C215.0 699.5 230.0 694.8 240.0 692.0C250.0 689.2 260.0 685.7 270.0 684.0C280.0 682.3 295.0 682.3 300.0 682.0" fill="none" stroke="#d8d8d8" stroke-width="2.6" stroke-linecap="round" filter="url(#blur2)"/>
</g>
<path d="M150.0 660.4C150.0 655.7 150.4 649.2 152.1 644.3C153.8 639.4 156.3 635.4 160.1 630.9C163.9 626.4 169.2 621.7 174.8 617.5C180.4 613.3 186.9 609.1 193.6 605.5C200.3 601.9 207.2 598.5 215.0 596.1C222.8 593.8 232.9 592.4 240.5 591.4C248.1 590.4 255.5 589.8 260.6 590.0C265.7 590.2 268.2 591.5 271.3 592.7C274.4 593.9 276.6 595.3 279.3 597.4C282.0 599.5 283.8 602.1 287.4 605.5C291.0 608.9 296.2 612.4 300.7 617.5C305.1 622.6 310.3 630.5 314.1 636.3C317.9 642.1 321.5 647.4 323.5 652.3C325.5 657.2 326.2 661.7 326.2 665.7C326.2 669.7 325.5 673.6 323.5 676.5C321.5 679.4 319.0 681.6 314.1 683.1C309.2 684.6 301.9 684.9 294.1 685.8C286.3 686.7 275.1 687.1 267.3 688.5C259.5 689.9 253.9 691.4 247.2 693.9C240.5 696.4 232.5 700.1 227.1 703.2C221.7 706.3 218.3 710.8 215.0 712.6C211.7 714.4 209.0 714.9 207.0 714.0C205.0 713.1 203.4 710.2 203.0 707.3C202.6 704.4 203.6 699.0 204.3 696.5C205.0 694.0 208.8 693.2 207.0 692.5C205.2 691.8 199.2 693.2 193.6 692.5C188.0 691.8 179.1 690.3 173.5 688.5C167.9 686.7 163.7 684.5 160.1 681.8C156.5 679.1 153.8 676.0 152.1 672.4C150.4 668.8 150.0 665.1 150.0 660.4Z" fill="none" stroke="#c4c4c4" stroke-width="0.9"/>
<path d="M263.3 609.6C264.2 607.5 265.7 605.4 267.2 604.4C268.7 603.4 270.0 603.4 272.4 603.7C274.8 604.0 279.7 604.7 281.4 606.3C283.1 607.9 282.3 609.8 282.7 613.4C283.1 617.0 284.2 624.4 284.0 627.6C283.8 630.8 283.3 631.8 281.4 632.8C279.5 633.8 275.0 633.6 272.4 633.5C269.8 633.4 267.4 633.4 265.9 632.2C264.4 631.0 263.9 628.9 263.3 626.4C262.7 623.9 262.0 620.1 262.0 617.3C262.0 614.5 262.4 611.8 263.3 609.6Z" fill="url(#orD)" stroke="#b35a1e" stroke-width="0.6"/>
<clipPath id="bc5"><path d="M492.1 667.1C492.1 664.0 492.1 659.7 493.4 655.0C494.7 650.3 496.8 644.2 500.1 638.9C503.5 633.5 507.9 628.0 513.5 622.9C519.1 617.8 526.2 612.6 533.6 608.1C541.0 603.6 549.9 598.9 557.7 596.1C565.5 593.3 573.8 592.5 580.5 591.4C587.2 590.3 593.2 589.6 597.9 589.4C602.6 589.2 605.2 589.1 608.6 590.0C612.0 590.9 614.9 592.6 618.0 594.7C621.1 596.8 623.6 599.4 627.4 602.8C631.2 606.1 636.3 610.1 640.8 614.8C645.3 619.5 650.0 625.5 654.2 630.9C658.4 636.3 663.1 641.6 666.2 647.0C669.3 652.4 671.8 658.2 672.9 663.1C674.0 668.0 674.0 672.9 672.9 676.5C671.8 680.1 669.8 682.7 666.2 684.5C662.6 686.3 658.0 686.5 651.5 687.2C645.0 687.9 634.8 687.6 627.4 688.5C620.0 689.4 614.0 690.5 607.3 692.5C600.6 694.5 593.2 697.5 587.2 700.6C581.2 703.7 575.6 708.5 571.1 711.3C566.6 714.1 563.5 716.4 560.4 717.3C557.3 718.2 554.5 718.0 552.3 716.6C550.1 715.2 547.9 711.7 547.0 708.6C546.1 705.5 546.3 700.8 547.0 697.9C547.7 695.0 553.2 692.3 551.0 691.2C548.8 690.1 539.9 691.9 533.6 691.2C527.4 690.5 519.1 689.0 513.5 687.2C507.9 685.4 503.5 682.7 500.1 680.5C496.8 678.3 494.7 676.0 493.4 673.8C492.1 671.6 492.1 670.2 492.1 667.1Z"/></clipPath>
<path d="M492.1 667.1C492.1 664.0 492.1 659.7 493.4 655.0C494.7 650.3 496.8 644.2 500.1 638.9C503.5 633.5 507.9 628.0 513.5 622.9C519.1 617.8 526.2 612.6 533.6 608.1C541.0 603.6 549.9 598.9 557.7 596.1C565.5 593.3 573.8 592.5 580.5 591.4C587.2 590.3 593.2 589.6 597.9 589.4C602.6 589.2 605.2 589.1 608.6 590.0C612.0 590.9 614.9 592.6 618.0 594.7C621.1 596.8 623.6 599.4 627.4 602.8C631.2 606.1 636.3 610.1 640.8 614.8C645.3 619.5 650.0 625.5 654.2 630.9C658.4 636.3 663.1 641.6 666.2 647.0C669.3 652.4 671.8 658.2 672.9 663.1C674.0 668.0 674.0 672.9 672.9 676.5C671.8 680.1 669.8 682.7 666.2 684.5C662.6 686.3 658.0 686.5 651.5 687.2C645.0 687.9 634.8 687.6 627.4 688.5C620.0 689.4 614.0 690.5 607.3 692.5C600.6 694.5 593.2 697.5 587.2 700.6C581.2 703.7 575.6 708.5 571.1 711.3C566.6 714.1 563.5 716.4 560.4 717.3C557.3 718.2 554.5 718.0 552.3 716.6C550.1 715.2 547.9 711.7 547.0 708.6C546.1 705.5 546.3 700.8 547.0 697.9C547.7 695.0 553.2 692.3 551.0 691.2C548.8 690.1 539.9 691.9 533.6 691.2C527.4 690.5 519.1 689.0 513.5 687.2C507.9 685.4 503.5 682.7 500.1 680.5C496.8 678.3 494.7 676.0 493.4 673.8C492.1 671.6 492.1 670.2 492.1 667.1Z" fill="url(#brainfill)"/>
<g clip-path="url(#bc5)">
<path d="M492.1 667.1C492.1 664.0 492.1 659.7 493.4 655.0C494.7 650.3 496.8 644.2 500.1 638.9C503.5 633.5 507.9 628.0 513.5 622.9C519.1 617.8 526.2 612.6 533.6 608.1C541.0 603.6 549.9 598.9 557.7 596.1C565.5 593.3 573.8 592.5 580.5 591.4C587.2 590.3 593.2 589.6 597.9 589.4C602.6 589.2 605.2 589.1 608.6 590.0C612.0 590.9 614.9 592.6 618.0 594.7C621.1 596.8 623.6 599.4 627.4 602.8C631.2 606.1 636.3 610.1 640.8 614.8C645.3 619.5 650.0 625.5 654.2 630.9C658.4 636.3 663.1 641.6 666.2 647.0C669.3 652.4 671.8 658.2 672.9 663.1C674.0 668.0 674.0 672.9 672.9 676.5C671.8 680.1 669.8 682.7 666.2 684.5C662.6 686.3 658.0 686.5 651.5 687.2C645.0 687.9 634.8 687.6 627.4 688.5C620.0 689.4 614.0 690.5 607.3 692.5C600.6 694.5 593.2 697.5 587.2 700.6C581.2 703.7 575.6 708.5 571.1 711.3C566.6 714.1 563.5 716.4 560.4 717.3C557.3 718.2 554.5 718.0 552.3 716.6C550.1 715.2 547.9 711.7 547.0 708.6C546.1 705.5 546.3 700.8 547.0 697.9C547.7 695.0 553.2 692.3 551.0 691.2C548.8 690.1 539.9 691.9 533.6 691.2C527.4 690.5 519.1 689.0 513.5 687.2C507.9 685.4 503.5 682.7 500.1 680.5C496.8 678.3 494.7 676.0 493.4 673.8C492.1 671.6 492.1 670.2 492.1 667.1Z" fill="none" stroke="#d2d2d2" stroke-width="6" filter="url(#blur2)"/>
<path d="M522.8 629.5C525.4 627.6 533.2 621.4 538.3 618.3C543.4 615.2 549.4 612.1 553.3 610.9C557.1 609.6 559.8 610.9 561.2 610.9" fill="none" stroke="#bababa" stroke-width="1.1" stroke-linecap="round" filter="url(#blur1)"/>
<path d="M579.7 610.9C580.3 611.3 583.5 611.3 583.2 613.5C582.9 615.8 579.9 620.3 577.9 624.3C575.9 628.3 572.3 635.4 571.2 637.6" fill="none" stroke="#c0c0c0" stroke-width="1.1" stroke-linecap="round" filter="url(#blur1)"/>
<path d="M581.9 612.2C584.0 612.9 590.5 614.9 594.7 616.2C598.9 617.6 605.0 619.7 607.0 620.3" fill="none" stroke="#c4c4c4" stroke-width="1.1" stroke-linecap="round" filter="url(#blur1)"/>
<path d="M542.7 661.5C544.0 661.7 547.5 663.1 550.6 662.8C553.7 662.6 556.7 661.5 561.2 660.2C565.6 658.8 572.4 656.4 577.1 654.9C581.7 653.3 585.8 652.2 589.1 650.9C592.4 649.5 593.8 648.2 596.8 646.9C599.8 645.5 605.3 643.6 607.0 642.9" fill="none" stroke="#c8c8c8" stroke-width="3.0" stroke-linecap="round" filter="url(#blur2)"/>
<path d="M550.6 690.9C551.4 689.1 552.2 683.5 555.3 680.2C558.4 676.8 564.4 673.5 569.1 670.9C573.7 668.2 580.2 666.0 583.2 664.2C586.2 662.4 586.5 660.9 587.1 660.3" fill="none" stroke="#c4c4c4" stroke-width="3.6" stroke-linecap="round" filter="url(#blur2)"/>
<path d="M513.4 648.2C514.1 650.0 515.2 655.3 517.4 658.8C519.7 662.4 523.5 666.4 526.8 669.5C530.1 672.7 535.6 676.2 537.4 677.5" fill="none" stroke="#d0d0d0" stroke-width="2.6" stroke-linecap="round" filter="url(#blur2)"/>
<path d="M506.9 677.5C509.1 678.8 514.6 683.3 520.1 685.5C525.6 687.8 536.7 690.0 540.0 690.9" fill="none" stroke="#cecece" stroke-width="3.0" stroke-linecap="round" filter="url(#blur2)"/>
<path d="M633.6 621.6C635.2 623.6 639.6 629.3 642.9 633.8C646.3 638.2 651.7 645.8 653.5 648.2" fill="none" stroke="#c4c4c4" stroke-width="3.6" stroke-linecap="round" filter="url(#blur1)"/>
<path d="M556.6 690.9C561.1 689.1 574.4 683.3 583.2 680.2C592.1 677.1 600.9 674.4 609.7 672.2C618.5 670.0 627.4 668.2 636.3 666.9C645.1 665.5 658.3 664.6 662.7 664.2" fill="none" stroke="#d4d4d4" stroke-width="2.8" stroke-linecap="round" filter="url(#blur2)"/>
<path d="M553.7 703.9C558.8 702.3 574.2 697.5 584.4 694.6C594.7 691.7 605.0 688.1 615.2 686.4C625.5 684.6 640.9 684.6 646.0 684.3" fill="none" stroke="#d8d8d8" stroke-width="2.6" stroke-linecap="round" filter="url(#blur2)"/>
</g>
<path d="M492.1 667.1C492.1 664.0 492.1 659.7 493.4 655.0C494.7 650.3 496.8 644.2 500.1 638.9C503.5 633.5 507.9 628.0 513.5 622.9C519.1 617.8 526.2 612.6 533.6 608.1C541.0 603.6 549.9 598.9 557.7 596.1C565.5 593.3 573.8 592.5 580.5 591.4C587.2 590.3 593.2 589.6 597.9 589.4C602.6 589.2 605.2 589.1 608.6 590.0C612.0 590.9 614.9 592.6 618.0 594.7C621.1 596.8 623.6 599.4 627.4 602.8C631.2 606.1 636.3 610.1 640.8 614.8C645.3 619.5 650.0 625.5 654.2 630.9C658.4 636.3 663.1 641.6 666.2 647.0C669.3 652.4 671.8 658.2 672.9 663.1C674.0 668.0 674.0 672.9 672.9 676.5C671.8 680.1 669.8 682.7 666.2 684.5C662.6 686.3 658.0 686.5 651.5 687.2C645.0 687.9 634.8 687.6 627.4 688.5C620.0 689.4 614.0 690.5 607.3 692.5C600.6 694.5 593.2 697.5 587.2 700.6C581.2 703.7 575.6 708.5 571.1 711.3C566.6 714.1 563.5 716.4 560.4 717.3C557.3 718.2 554.5 718.0 552.3 716.6C550.1 715.2 547.9 711.7 547.0 708.6C546.1 705.5 546.3 700.8 547.0 697.9C547.7 695.0 553.2 692.3 551.0 691.2C548.8 690.1 539.9 691.9 533.6 691.2C527.4 690.5 519.1 689.0 513.5 687.2C507.9 685.4 503.5 682.7 500.1 680.5C496.8 678.3 494.7 676.0 493.4 673.8C492.1 671.6 492.1 670.2 492.1 667.1Z" fill="none" stroke="#c4c4c4" stroke-width="0.9"/>
<path d="M600.6 610.8C601.5 608.6 602.6 607.9 604.6 606.8C606.6 605.7 610.6 603.8 612.6 604.1C614.6 604.4 615.7 606.6 616.6 608.8C617.5 611.0 617.8 614.0 618.0 617.5C618.2 621.0 618.9 627.1 618.0 629.6C617.1 632.1 614.8 631.9 612.6 632.2C610.4 632.5 606.7 632.3 604.6 631.6C602.5 630.9 600.8 630.1 599.9 628.2C599.0 626.3 599.1 623.1 599.2 620.2C599.3 617.3 599.7 613.0 600.6 610.8Z" fill="url(#orE)" stroke="#b35a1e" stroke-width="0.6"/>
<text x="78.58" y="187.70" font-family='"Liberation Sans", Arial, sans-serif' font-size="23.48" fill="#000" textLength="96.72" lengthAdjust="spacingAndGlyphs">Right SPL</text>
<text x="460.44" y="188.20" font-family='"Liberation Sans", Arial, sans-serif' font-size="23.48" fill="#000" textLength="172.14" lengthAdjust="spacingAndGlyphs">Right Precuneus</text>
<text x="859.86" y="184.20" font-family='"Liberation Sans", Arial, sans-serif' font-size="23.48" fill="#000" textLength="102.99" lengthAdjust="spacingAndGlyphs">Right PCC</text>
<text x="275.80" y="713.30" font-family='"Liberation Sans", Arial, sans-serif' font-size="23.77" fill="#000" textLength="77.72" lengthAdjust="spacingAndGlyphs">Left IPL</text>
<text x="614.63" y="714.10" font-family='"Liberation Sans", Arial, sans-serif' font-size="23.77" fill="#000" textLength="98.48" lengthAdjust="spacingAndGlyphs">Left SMG</text>
<path d="M138.84 472.00v-3.2M138.84 231.00v3.2M201.68 472.00v-3.2M201.68 231.00v3.2M264.52 472.00v-3.2M264.52 231.00v3.2M327.36 472.00v-3.2M327.36 231.00v3.2M76.00 437.57h3.2M390.20 437.57h-3.2M76.00 403.14h3.2M390.20 403.14h-3.2M76.00 368.71h3.2M390.20 368.71h-3.2M76.00 334.29h3.2M390.20 334.29h-3.2M76.00 299.86h3.2M390.20 299.86h-3.2M76.00 265.43h3.2M390.20 265.43h-3.2" stroke="#6e6e6e" stroke-width="1.2" fill="none"/>
<rect x="76.00" y="231.00" width="314.20" height="241.00" fill="none" stroke="#6e6e6e" stroke-width="1.3"/>
<line x1="76" y1="304.1" x2="358.6" y2="247.9" stroke="#0c539a" stroke-width="2.0" stroke-linecap="round"/>
<line x1="76" y1="321.9" x2="358.6" y2="344.6" stroke="#4eaad8" stroke-width="2.0" stroke-linecap="round"/>
<line x1="76" y1="339.4" x2="358.6" y2="441.7" stroke="#1ee8e2" stroke-width="2.0" stroke-linecap="round"/>
<text x="71.52" y="490.10" font-family='"DejaVu Sans", sans-serif' font-size="15.00" fill="#262626" textLength="8.97" lengthAdjust="spacingAndGlyphs">0</text>
<text x="134.54" y="490.10" font-family='"DejaVu Sans", sans-serif' font-size="15.00" fill="#262626" textLength="8.97" lengthAdjust="spacingAndGlyphs">2</text>
<text x="197.24" y="490.10" font-family='"DejaVu Sans", sans-serif' font-size="15.00" fill="#262626" textLength="8.97" lengthAdjust="spacingAndGlyphs">4</text>
<text x="259.97" y="490.10" font-family='"DejaVu Sans", sans-serif' font-size="15.00" fill="#262626" textLength="8.97" lengthAdjust="spacingAndGlyphs">6</text>
<text x="322.88" y="490.10" font-family='"DejaVu Sans", sans-serif' font-size="15.00" fill="#262626" textLength="8.97" lengthAdjust="spacingAndGlyphs">8</text>
<text x="380.93" y="490.10" font-family='"DejaVu Sans", sans-serif' font-size="15.00" fill="#262626" textLength="17.94" lengthAdjust="spacingAndGlyphs">10</text>
<text x="53.41" y="477.10" font-family='"DejaVu Sans", sans-serif' font-size="15.00" fill="#262626" textLength="17.94" lengthAdjust="spacingAndGlyphs">50</text>
<text x="53.41" y="442.67" font-family='"DejaVu Sans", sans-serif' font-size="15.00" fill="#262626" textLength="17.94" lengthAdjust="spacingAndGlyphs">60</text>
<text x="53.41" y="408.24" font-family='"DejaVu Sans", sans-serif' font-size="15.00" fill="#262626" textLength="17.94" lengthAdjust="spacingAndGlyphs">70</text>
<text x="53.41" y="373.81" font-family='"DejaVu Sans", sans-serif' font-size="15.00" fill="#262626" textLength="17.94" lengthAdjust="spacingAndGlyphs">80</text>
<text x="53.41" y="339.39" font-family='"DejaVu Sans", sans-serif' font-size="15.00" fill="#262626" textLength="17.94" lengthAdjust="spacingAndGlyphs">90</text>
<text x="44.39" y="304.96" font-family='"DejaVu Sans", sans-serif' font-size="15.00" fill="#262626" textLength="26.91" lengthAdjust="spacingAndGlyphs">100</text>
<text x="44.39" y="270.53" font-family='"DejaVu Sans", sans-serif' font-size="15.00" fill="#262626" textLength="26.91" lengthAdjust="spacingAndGlyphs">110</text>
<text x="44.39" y="236.10" font-family='"DejaVu Sans", sans-serif' font-size="15.00" fill="#262626" textLength="26.91" lengthAdjust="spacingAndGlyphs">120</text>
<text x="222.90" y="509.79" font-family='"DejaVu Sans", sans-serif' font-size="15.90" fill="#262626" textLength="21.73" lengthAdjust="spacingAndGlyphs">BC</text>
<text transform="translate(39.00,412.45) rotate(-90)" x="-0.15" y="0" font-family='"DejaVu Sans", sans-serif' font-size="15.70" fill="#262626" textLength="122.06" lengthAdjust="spacingAndGlyphs">Adjusted flanker</text>
<text x="120.46" y="215.60" font-family='"Liberation Sans", Arial, sans-serif' font-size="21.59" font-weight="bold" fill="#000" textLength="230.26" lengthAdjust="spacingAndGlyphs">Interaction of age and BC</text>
<path d="M531.92 475.00v-3.2M531.92 234.50v3.2M594.84 475.00v-3.2M594.84 234.50v3.2M657.76 475.00v-3.2M657.76 234.50v3.2M720.68 475.00v-3.2M720.68 234.50v3.2M469.00 434.92h3.2M783.60 434.92h-3.2M469.00 394.83h3.2M783.60 394.83h-3.2M469.00 354.75h3.2M783.60 354.75h-3.2M469.00 314.67h3.2M783.60 314.67h-3.2M469.00 274.58h3.2M783.60 274.58h-3.2" stroke="#6e6e6e" stroke-width="1.2" fill="none"/>
<rect x="469.00" y="234.50" width="314.60" height="240.50" fill="none" stroke="#6e6e6e" stroke-width="1.3"/>
<line x1="469" y1="320.1" x2="762.3" y2="245.3" stroke="#0c539a" stroke-width="2.0" stroke-linecap="round"/>
<line x1="469" y1="339.4" x2="762.3" y2="344" stroke="#4eaad8" stroke-width="2.0" stroke-linecap="round"/>
<line x1="469" y1="357.7" x2="762.3" y2="442.5" stroke="#1ee8e2" stroke-width="2.0" stroke-linecap="round"/>
<text x="464.52" y="493.10" font-family='"DejaVu Sans", sans-serif' font-size="15.00" fill="#262626" textLength="8.97" lengthAdjust="spacingAndGlyphs">0</text>
<text x="527.62" y="493.10" font-family='"DejaVu Sans", sans-serif' font-size="15.00" fill="#262626" textLength="8.97" lengthAdjust="spacingAndGlyphs">2</text>
<text x="590.40" y="493.10" font-family='"DejaVu Sans", sans-serif' font-size="15.00" fill="#262626" textLength="8.97" lengthAdjust="spacingAndGlyphs">4</text>
<text x="653.21" y="493.10" font-family='"DejaVu Sans", sans-serif' font-size="15.00" fill="#262626" textLength="8.97" lengthAdjust="spacingAndGlyphs">6</text>
<text x="716.20" y="493.10" font-family='"DejaVu Sans", sans-serif' font-size="15.00" fill="#262626" textLength="8.97" lengthAdjust="spacingAndGlyphs">8</text>
<text x="774.33" y="493.10" font-family='"DejaVu Sans", sans-serif' font-size="15.00" fill="#262626" textLength="17.94" lengthAdjust="spacingAndGlyphs">10</text>
<text x="446.41" y="480.10" font-family='"DejaVu Sans", sans-serif' font-size="15.00" fill="#262626" textLength="17.94" lengthAdjust="spacingAndGlyphs">60</text>
<text x="446.41" y="440.02" font-family='"DejaVu Sans", sans-serif' font-size="15.00" fill="#262626" textLength="17.94" lengthAdjust="spacingAndGlyphs">70</text>
<text x="446.41" y="399.93" font-family='"DejaVu Sans", sans-serif' font-size="15.00" fill="#262626" textLength="17.94" lengthAdjust="spacingAndGlyphs">80</text>
<text x="446.41" y="359.85" font-family='"DejaVu Sans", sans-serif' font-size="15.00" fill="#262626" textLength="17.94" lengthAdjust="spacingAndGlyphs">90</text>
<text x="437.39" y="319.77" font-family='"DejaVu Sans", sans-serif' font-size="15.00" fill="#262626" textLength="26.91" lengthAdjust="spacingAndGlyphs">100</text>
<text x="437.39" y="279.68" font-family='"DejaVu Sans", sans-serif' font-size="15.00" fill="#262626" textLength="26.91" lengthAdjust="spacingAndGlyphs">110</text>
<text x="437.39" y="239.60" font-family='"DejaVu Sans", sans-serif' font-size="15.00" fill="#262626" textLength="26.91" lengthAdjust="spacingAndGlyphs">120</text>
<text x="615.75" y="513.39" font-family='"DejaVu Sans", sans-serif' font-size="15.90" fill="#262626" textLength="21.73" lengthAdjust="spacingAndGlyphs">BC</text>
<text transform="translate(432.00,415.70) rotate(-90)" x="-0.15" y="0" font-family='"DejaVu Sans", sans-serif' font-size="15.70" fill="#262626" textLength="122.06" lengthAdjust="spacingAndGlyphs">Adjusted flanker</text>
<text x="514.46" y="223.70" font-family='"Liberation Sans", Arial, sans-serif' font-size="21.59" font-weight="bold" fill="#000" textLength="230.26" lengthAdjust="spacingAndGlyphs">Interaction of age and BC</text>
<path d="M942.91 479.50v-3.2M942.91 238.20v3.2M992.81 479.50v-3.2M992.81 238.20v3.2M1042.72 479.50v-3.2M1042.72 238.20v3.2M1092.63 479.50v-3.2M1092.63 238.20v3.2M1142.53 479.50v-3.2M1142.53 238.20v3.2M1192.44 479.50v-3.2M1192.44 238.20v3.2M893.00 439.28h3.2M1213.40 439.28h-3.2M893.00 399.07h3.2M1213.40 399.07h-3.2M893.00 358.85h3.2M1213.40 358.85h-3.2M893.00 318.63h3.2M1213.40 318.63h-3.2M893.00 278.42h3.2M1213.40 278.42h-3.2" stroke="#6e6e6e" stroke-width="1.2" fill="none"/>
<rect x="893.00" y="238.20" width="320.40" height="241.30" fill="none" stroke="#6e6e6e" stroke-width="1.3"/>
<line x1="898" y1="415.3" x2="1213" y2="245.1" stroke="#0c539a" stroke-width="2.0" stroke-linecap="round"/>
<line x1="898" y1="400.8" x2="1213" y2="345.2" stroke="#4eaad8" stroke-width="2.0" stroke-linecap="round"/>
<line x1="898" y1="386.3" x2="1213" y2="445.6" stroke="#1ee8e2" stroke-width="2.0" stroke-linecap="round"/>
<text x="886.34" y="497.60" font-family='"DejaVu Sans", sans-serif' font-size="15.00" fill="#262626" textLength="14.06" lengthAdjust="spacingAndGlyphs">-2</text>
<text x="936.17" y="497.60" font-family='"DejaVu Sans", sans-serif' font-size="15.00" fill="#262626" textLength="14.06" lengthAdjust="spacingAndGlyphs">-1</text>
<text x="988.34" y="497.60" font-family='"DejaVu Sans", sans-serif' font-size="15.00" fill="#262626" textLength="8.97" lengthAdjust="spacingAndGlyphs">0</text>
<text x="1038.10" y="497.60" font-family='"DejaVu Sans", sans-serif' font-size="15.00" fill="#262626" textLength="8.97" lengthAdjust="spacingAndGlyphs">1</text>
<text x="1088.33" y="497.60" font-family='"DejaVu Sans", sans-serif' font-size="15.00" fill="#262626" textLength="8.97" lengthAdjust="spacingAndGlyphs">2</text>
<text x="1138.09" y="497.60" font-family='"DejaVu Sans", sans-serif' font-size="15.00" fill="#262626" textLength="8.97" lengthAdjust="spacingAndGlyphs">3</text>
<text x="1188.00" y="497.60" font-family='"DejaVu Sans", sans-serif' font-size="15.00" fill="#262626" textLength="8.97" lengthAdjust="spacingAndGlyphs">4</text>
<text x="870.41" y="484.60" font-family='"DejaVu Sans", sans-serif' font-size="15.00" fill="#262626" textLength="17.94" lengthAdjust="spacingAndGlyphs">70</text>
<text x="870.41" y="444.38" font-family='"DejaVu Sans", sans-serif' font-size="15.00" fill="#262626" textLength="17.94" lengthAdjust="spacingAndGlyphs">80</text>
<text x="870.41" y="404.17" font-family='"DejaVu Sans", sans-serif' font-size="15.00" fill="#262626" textLength="17.94" lengthAdjust="spacingAndGlyphs">90</text>
<text x="861.39" y="363.95" font-family='"DejaVu Sans", sans-serif' font-size="15.00" fill="#262626" textLength="26.91" lengthAdjust="spacingAndGlyphs">100</text>
<text x="861.39" y="323.73" font-family='"DejaVu Sans", sans-serif' font-size="15.00" fill="#262626" textLength="26.91" lengthAdjust="spacingAndGlyphs">110</text>
<text x="861.39" y="283.52" font-family='"DejaVu Sans", sans-serif' font-size="15.00" fill="#262626" textLength="26.91" lengthAdjust="spacingAndGlyphs">120</text>
<text x="861.39" y="243.30" font-family='"DejaVu Sans", sans-serif' font-size="15.00" fill="#262626" textLength="26.91" lengthAdjust="spacingAndGlyphs">130</text>
<text x="1042.12" y="517.09" font-family='"DejaVu Sans", sans-serif' font-size="15.90" fill="#262626" textLength="22.21" lengthAdjust="spacingAndGlyphs">CC</text>
<text transform="translate(856.00,419.80) rotate(-90)" x="-0.15" y="0" font-family='"DejaVu Sans", sans-serif' font-size="15.70" fill="#262626" textLength="122.06" lengthAdjust="spacingAndGlyphs">Adjusted flanker</text>
<text x="930.86" y="227.90" font-family='"Liberation Sans", Arial, sans-serif' font-size="21.59" font-weight="bold" fill="#000" textLength="230.46" lengthAdjust="spacingAndGlyphs">Interaction of age and CC</text>
<path d="M135.22 1001.10v-3.2M135.22 760.10v3.2M198.64 1001.10v-3.2M198.64 760.10v3.2M262.06 1001.10v-3.2M262.06 760.10v3.2M325.48 1001.10v-3.2M325.48 760.10v3.2M71.80 970.98h3.2M388.90 970.98h-3.2M71.80 940.85h3.2M388.90 940.85h-3.2M71.80 910.73h3.2M388.90 910.73h-3.2M71.80 880.60h3.2M388.90 880.60h-3.2M71.80 850.48h3.2M388.90 850.48h-3.2M71.80 820.35h3.2M388.90 820.35h-3.2M71.80 790.23h3.2M388.90 790.23h-3.2" stroke="#6e6e6e" stroke-width="1.2" fill="none"/>
<rect x="71.80" y="760.10" width="317.10" height="241.00" fill="none" stroke="#6e6e6e" stroke-width="1.3"/>
<line x1="71.8" y1="910.4" x2="341.2" y2="770.7" stroke="#0c539a" stroke-width="2.0" stroke-linecap="round"/>
<line x1="71.8" y1="940.2" x2="341.2" y2="909.7" stroke="#1ee8e2" stroke-width="2.0" stroke-linecap="round"/>
<line x1="71.8" y1="932.4" x2="341.2" y2="997.8" stroke="#4eaad8" stroke-width="2.0" stroke-linecap="round"/>
<text x="67.32" y="1019.20" font-family='"DejaVu Sans", sans-serif' font-size="15.00" fill="#262626" textLength="8.97" lengthAdjust="spacingAndGlyphs">0</text>
<text x="130.92" y="1019.20" font-family='"DejaVu Sans", sans-serif' font-size="15.00" fill="#262626" textLength="8.97" lengthAdjust="spacingAndGlyphs">2</text>
<text x="194.20" y="1019.20" font-family='"DejaVu Sans", sans-serif' font-size="15.00" fill="#262626" textLength="8.97" lengthAdjust="spacingAndGlyphs">4</text>
<text x="257.51" y="1019.20" font-family='"DejaVu Sans", sans-serif' font-size="15.00" fill="#262626" textLength="8.97" lengthAdjust="spacingAndGlyphs">6</text>
<text x="321.00" y="1019.20" font-family='"DejaVu Sans", sans-serif' font-size="15.00" fill="#262626" textLength="8.97" lengthAdjust="spacingAndGlyphs">8</text>
<text x="379.63" y="1019.20" font-family='"DejaVu Sans", sans-serif' font-size="15.00" fill="#262626" textLength="17.94" lengthAdjust="spacingAndGlyphs">10</text>
<text x="49.21" y="1006.20" font-family='"DejaVu Sans", sans-serif' font-size="15.00" fill="#262626" textLength="17.94" lengthAdjust="spacingAndGlyphs">70</text>
<text x="49.21" y="976.08" font-family='"DejaVu Sans", sans-serif' font-size="15.00" fill="#262626" textLength="17.94" lengthAdjust="spacingAndGlyphs">80</text>
<text x="49.21" y="945.95" font-family='"DejaVu Sans", sans-serif' font-size="15.00" fill="#262626" textLength="17.94" lengthAdjust="spacingAndGlyphs">90</text>
<text x="40.19" y="915.83" font-family='"DejaVu Sans", sans-serif' font-size="15.00" fill="#262626" textLength="26.91" lengthAdjust="spacingAndGlyphs">100</text>
<text x="40.19" y="885.70" font-family='"DejaVu Sans", sans-serif' font-size="15.00" fill="#262626" textLength="26.91" lengthAdjust="spacingAndGlyphs">110</text>
<text x="40.19" y="855.58" font-family='"DejaVu Sans", sans-serif' font-size="15.00" fill="#262626" textLength="26.91" lengthAdjust="spacingAndGlyphs">120</text>
<text x="40.19" y="825.45" font-family='"DejaVu Sans", sans-serif' font-size="15.00" fill="#262626" textLength="26.91" lengthAdjust="spacingAndGlyphs">130</text>
<text x="40.19" y="795.33" font-family='"DejaVu Sans", sans-serif' font-size="15.00" fill="#262626" textLength="26.91" lengthAdjust="spacingAndGlyphs">140</text>
<text x="40.19" y="765.20" font-family='"DejaVu Sans", sans-serif' font-size="15.00" fill="#262626" textLength="26.91" lengthAdjust="spacingAndGlyphs">150</text>
<text x="219.65" y="1039.19" font-family='"DejaVu Sans", sans-serif' font-size="15.90" fill="#262626" textLength="21.73" lengthAdjust="spacingAndGlyphs">BC</text>
<text transform="translate(34.80,941.55) rotate(-90)" x="-0.15" y="0" font-family='"DejaVu Sans", sans-serif' font-size="15.70" fill="#262626" textLength="122.06" lengthAdjust="spacingAndGlyphs">Adjusted flanker</text>
<text x="118.16" y="747.50" font-family='"Liberation Sans", Arial, sans-serif' font-size="21.59" font-weight="bold" fill="#000" textLength="230.26" lengthAdjust="spacingAndGlyphs">Interaction of age and BC</text>
<path d="M531.70 999.50v-3.2M531.70 758.50v3.2M610.30 999.50v-3.2M610.30 758.50v3.2M688.90 999.50v-3.2M688.90 758.50v3.2M453.10 959.33h3.2M767.50 959.33h-3.2M453.10 919.17h3.2M767.50 919.17h-3.2M453.10 879.00h3.2M767.50 879.00h-3.2M453.10 838.83h3.2M767.50 838.83h-3.2M453.10 798.67h3.2M767.50 798.67h-3.2" stroke="#6e6e6e" stroke-width="1.2" fill="none"/>
<rect x="453.10" y="758.50" width="314.40" height="241.00" fill="none" stroke="#6e6e6e" stroke-width="1.3"/>
<line x1="453.1" y1="800.2" x2="719.7" y2="823.6" stroke="#0c539a" stroke-width="2.0" stroke-linecap="round"/>
<line x1="453.1" y1="825.8" x2="719.7" y2="793.1" stroke="#4eaad8" stroke-width="2.0" stroke-linecap="round"/>
<line x1="453.1" y1="834.5" x2="719.7" y2="966.5" stroke="#1ee8e2" stroke-width="2.0" stroke-linecap="round"/>
<text x="448.62" y="1017.60" font-family='"DejaVu Sans", sans-serif' font-size="15.00" fill="#262626" textLength="8.97" lengthAdjust="spacingAndGlyphs">0</text>
<text x="527.40" y="1017.60" font-family='"DejaVu Sans", sans-serif' font-size="15.00" fill="#262626" textLength="8.97" lengthAdjust="spacingAndGlyphs">2</text>
<text x="605.86" y="1017.60" font-family='"DejaVu Sans", sans-serif' font-size="15.00" fill="#262626" textLength="8.97" lengthAdjust="spacingAndGlyphs">4</text>
<text x="684.35" y="1017.60" font-family='"DejaVu Sans", sans-serif' font-size="15.00" fill="#262626" textLength="8.97" lengthAdjust="spacingAndGlyphs">6</text>
<text x="763.02" y="1017.60" font-family='"DejaVu Sans", sans-serif' font-size="15.00" fill="#262626" textLength="8.97" lengthAdjust="spacingAndGlyphs">8</text>
<text x="430.51" y="1004.60" font-family='"DejaVu Sans", sans-serif' font-size="15.00" fill="#262626" textLength="17.94" lengthAdjust="spacingAndGlyphs">50</text>
<text x="430.51" y="964.43" font-family='"DejaVu Sans", sans-serif' font-size="15.00" fill="#262626" textLength="17.94" lengthAdjust="spacingAndGlyphs">60</text>
<text x="430.51" y="924.27" font-family='"DejaVu Sans", sans-serif' font-size="15.00" fill="#262626" textLength="17.94" lengthAdjust="spacingAndGlyphs">70</text>
<text x="430.51" y="884.10" font-family='"DejaVu Sans", sans-serif' font-size="15.00" fill="#262626" textLength="17.94" lengthAdjust="spacingAndGlyphs">80</text>
<text x="430.51" y="843.93" font-family='"DejaVu Sans", sans-serif' font-size="15.00" fill="#262626" textLength="17.94" lengthAdjust="spacingAndGlyphs">90</text>
<text x="421.49" y="803.77" font-family='"DejaVu Sans", sans-serif' font-size="15.00" fill="#262626" textLength="26.91" lengthAdjust="spacingAndGlyphs">100</text>
<text x="421.49" y="763.60" font-family='"DejaVu Sans", sans-serif' font-size="15.00" fill="#262626" textLength="26.91" lengthAdjust="spacingAndGlyphs">110</text>
<text x="599.60" y="1037.19" font-family='"DejaVu Sans", sans-serif' font-size="15.90" fill="#262626" textLength="21.73" lengthAdjust="spacingAndGlyphs">BC</text>
<text transform="translate(416.10,939.95) rotate(-90)" x="-0.15" y="0" font-family='"DejaVu Sans", sans-serif' font-size="15.70" fill="#262626" textLength="122.06" lengthAdjust="spacingAndGlyphs">Adjusted flanker</text>
<text x="496.56" y="744.20" font-family='"Liberation Sans", Arial, sans-serif' font-size="21.59" font-weight="bold" fill="#000" textLength="230.66" lengthAdjust="spacingAndGlyphs">Interaction of age and BC</text>
<path d="M912.23 996.00v-3.2M912.23 756.10v3.2M990.95 996.00v-3.2M990.95 756.10v3.2M1069.68 996.00v-3.2M1069.68 756.10v3.2M833.50 956.02h3.2M1148.40 956.02h-3.2M833.50 916.03h3.2M1148.40 916.03h-3.2M833.50 876.05h3.2M1148.40 876.05h-3.2M833.50 836.07h3.2M1148.40 836.07h-3.2M833.50 796.08h3.2M1148.40 796.08h-3.2" stroke="#6e6e6e" stroke-width="1.2" fill="none"/>
<rect x="833.50" y="756.10" width="314.90" height="239.90" fill="none" stroke="#6e6e6e" stroke-width="1.3"/>
<line x1="873.2" y1="959.7" x2="1137.8" y2="773.4" stroke="#0c539a" stroke-width="2.0" stroke-linecap="round"/>
<line x1="873.2" y1="978" x2="1137.8" y2="826.4" stroke="#1ee8e2" stroke-width="2.0" stroke-linecap="round"/>
<line x1="873.2" y1="872.9" x2="1137.8" y2="941.7" stroke="#4eaad8" stroke-width="2.0" stroke-linecap="round"/>
<text x="826.52" y="1014.10" font-family='"DejaVu Sans", sans-serif' font-size="15.00" fill="#262626" textLength="14.06" lengthAdjust="spacingAndGlyphs">-4</text>
<text x="905.56" y="1014.10" font-family='"DejaVu Sans", sans-serif' font-size="15.00" fill="#262626" textLength="14.06" lengthAdjust="spacingAndGlyphs">-2</text>
<text x="986.47" y="1014.10" font-family='"DejaVu Sans", sans-serif' font-size="15.00" fill="#262626" textLength="8.97" lengthAdjust="spacingAndGlyphs">0</text>
<text x="1065.37" y="1014.10" font-family='"DejaVu Sans", sans-serif' font-size="15.00" fill="#262626" textLength="8.97" lengthAdjust="spacingAndGlyphs">2</text>
<text x="1143.96" y="1014.10" font-family='"DejaVu Sans", sans-serif' font-size="15.00" fill="#262626" textLength="8.97" lengthAdjust="spacingAndGlyphs">4</text>
<text x="810.91" y="1001.10" font-family='"DejaVu Sans", sans-serif' font-size="15.00" fill="#262626" textLength="17.94" lengthAdjust="spacingAndGlyphs">70</text>
<text x="810.91" y="961.12" font-family='"DejaVu Sans", sans-serif' font-size="15.00" fill="#262626" textLength="17.94" lengthAdjust="spacingAndGlyphs">80</text>
<text x="810.91" y="921.13" font-family='"DejaVu Sans", sans-serif' font-size="15.00" fill="#262626" textLength="17.94" lengthAdjust="spacingAndGlyphs">90</text>
<text x="801.89" y="881.15" font-family='"DejaVu Sans", sans-serif' font-size="15.00" fill="#262626" textLength="26.91" lengthAdjust="spacingAndGlyphs">100</text>
<text x="801.89" y="841.17" font-family='"DejaVu Sans", sans-serif' font-size="15.00" fill="#262626" textLength="26.91" lengthAdjust="spacingAndGlyphs">110</text>
<text x="801.89" y="801.18" font-family='"DejaVu Sans", sans-serif' font-size="15.00" fill="#262626" textLength="26.91" lengthAdjust="spacingAndGlyphs">120</text>
<text x="801.89" y="761.20" font-family='"DejaVu Sans", sans-serif' font-size="15.00" fill="#262626" textLength="26.91" lengthAdjust="spacingAndGlyphs">130</text>
<text x="979.27" y="1037.69" font-family='"DejaVu Sans", sans-serif' font-size="15.90" fill="#262626" textLength="20.69" lengthAdjust="spacingAndGlyphs">CP</text>
<text transform="translate(796.50,937.00) rotate(-90)" x="-0.15" y="0" font-family='"DejaVu Sans", sans-serif' font-size="15.70" fill="#262626" textLength="122.06" lengthAdjust="spacingAndGlyphs">Adjusted flanker</text>
<text x="877.36" y="742.50" font-family='"Liberation Sans", Arial, sans-serif' font-size="21.59" font-weight="bold" fill="#000" textLength="229.96" lengthAdjust="spacingAndGlyphs">Interaction of age and CP</text>
<path d="M1263.48 997.00v-3.2M1263.48 755.90v3.2M1315.87 997.00v-3.2M1315.87 755.90v3.2M1368.25 997.00v-3.2M1368.25 755.90v3.2M1420.63 997.00v-3.2M1420.63 755.90v3.2M1473.02 997.00v-3.2M1473.02 755.90v3.2M1211.10 966.86h3.2M1525.40 966.86h-3.2M1211.10 936.73h3.2M1525.40 936.73h-3.2M1211.10 906.59h3.2M1525.40 906.59h-3.2M1211.10 876.45h3.2M1525.40 876.45h-3.2M1211.10 846.31h3.2M1525.40 846.31h-3.2M1211.10 816.17h3.2M1525.40 816.17h-3.2M1211.10 786.04h3.2M1525.40 786.04h-3.2" stroke="#6e6e6e" stroke-width="1.2" fill="none"/>
<rect x="1211.10" y="755.90" width="314.30" height="241.10" fill="none" stroke="#6e6e6e" stroke-width="1.3"/>
<line x1="1263.7" y1="996.1" x2="1472.8" y2="761.7" stroke="#0c539a" stroke-width="2.0" stroke-linecap="round"/>
<line x1="1263.7" y1="980.3" x2="1472.8" y2="912.7" stroke="#1ee8e2" stroke-width="2.0" stroke-linecap="round"/>
<line x1="1263.7" y1="947.5" x2="1472.8" y2="986" stroke="#4eaad8" stroke-width="2.0" stroke-linecap="round"/>
<text x="1204.12" y="1015.10" font-family='"DejaVu Sans", sans-serif' font-size="15.00" fill="#262626" textLength="14.06" lengthAdjust="spacingAndGlyphs">-4</text>
<text x="1256.82" y="1015.10" font-family='"DejaVu Sans", sans-serif' font-size="15.00" fill="#262626" textLength="14.06" lengthAdjust="spacingAndGlyphs">-2</text>
<text x="1311.39" y="1015.10" font-family='"DejaVu Sans", sans-serif' font-size="15.00" fill="#262626" textLength="8.97" lengthAdjust="spacingAndGlyphs">0</text>
<text x="1363.95" y="1015.10" font-family='"DejaVu Sans", sans-serif' font-size="15.00" fill="#262626" textLength="8.97" lengthAdjust="spacingAndGlyphs">2</text>
<text x="1416.19" y="1015.10" font-family='"DejaVu Sans", sans-serif' font-size="15.00" fill="#262626" textLength="8.97" lengthAdjust="spacingAndGlyphs">4</text>
<text x="1468.47" y="1015.10" font-family='"DejaVu Sans", sans-serif' font-size="15.00" fill="#262626" textLength="8.97" lengthAdjust="spacingAndGlyphs">6</text>
<text x="1520.92" y="1015.10" font-family='"DejaVu Sans", sans-serif' font-size="15.00" fill="#262626" textLength="8.97" lengthAdjust="spacingAndGlyphs">8</text>
<text x="1188.51" y="1002.10" font-family='"DejaVu Sans", sans-serif' font-size="15.00" fill="#262626" textLength="17.94" lengthAdjust="spacingAndGlyphs">80</text>
<text x="1188.51" y="971.96" font-family='"DejaVu Sans", sans-serif' font-size="15.00" fill="#262626" textLength="17.94" lengthAdjust="spacingAndGlyphs">90</text>
<text x="1179.49" y="941.83" font-family='"DejaVu Sans", sans-serif' font-size="15.00" fill="#262626" textLength="26.91" lengthAdjust="spacingAndGlyphs">100</text>
<text x="1179.49" y="911.69" font-family='"DejaVu Sans", sans-serif' font-size="15.00" fill="#262626" textLength="26.91" lengthAdjust="spacingAndGlyphs">110</text>
<text x="1179.49" y="881.55" font-family='"DejaVu Sans", sans-serif' font-size="15.00" fill="#262626" textLength="26.91" lengthAdjust="spacingAndGlyphs">120</text>
<text x="1179.49" y="851.41" font-family='"DejaVu Sans", sans-serif' font-size="15.00" fill="#262626" textLength="26.91" lengthAdjust="spacingAndGlyphs">130</text>
<text x="1179.49" y="821.27" font-family='"DejaVu Sans", sans-serif' font-size="15.00" fill="#262626" textLength="26.91" lengthAdjust="spacingAndGlyphs">140</text>
<text x="1179.49" y="791.14" font-family='"DejaVu Sans", sans-serif' font-size="15.00" fill="#262626" textLength="26.91" lengthAdjust="spacingAndGlyphs">150</text>
<text x="1179.49" y="761.00" font-family='"DejaVu Sans", sans-serif' font-size="15.00" fill="#262626" textLength="26.91" lengthAdjust="spacingAndGlyphs">160</text>
<text x="1369.62" y="1033.89" font-family='"DejaVu Sans", sans-serif' font-size="15.90" fill="#262626" textLength="22.21" lengthAdjust="spacingAndGlyphs">CC</text>
<text transform="translate(1174.10,937.40) rotate(-90)" x="-0.15" y="0" font-family='"DejaVu Sans", sans-serif' font-size="15.70" fill="#262626" textLength="122.06" lengthAdjust="spacingAndGlyphs">Adjusted flanker</text>
<text x="1245.87" y="742.80" font-family='"Liberation Sans", Arial, sans-serif' font-size="21.59" font-weight="bold" fill="#000" textLength="229.96" lengthAdjust="spacingAndGlyphs">Interaction of age and CC</text>
<line x1="257" y1="226.1" x2="264.8" y2="226.1" stroke="#111" stroke-width="1.5"/>
<line x1="635.1" y1="754.4" x2="639.5" y2="754.4" stroke="#777" stroke-width="1.3"/>
<line x1="988.2" y1="752.5" x2="992.7" y2="752.5" stroke="#888" stroke-width="1.2"/>
<rect x="1503" y="737" width="2" height="2" fill="#999"/><rect x="1503" y="740.6" width="2" height="2" fill="#aaa"/>
<rect x="1188.3" y="219.5" width="1.8" height="1.8" fill="#ddd"/><rect x="1188" y="223" width="1.8" height="1.8" fill="#e6e6e6"/>
<text x="1335.51" y="315.50" font-family='"Liberation Sans", Arial, sans-serif' font-size="23.33" fill="#000" textLength="85.22" lengthAdjust="spacingAndGlyphs">Legend:</text>
<rect x="1374.5" y="324.6" width="23.0" height="21.4" fill="#40e8e8" stroke="#1a1a2a" stroke-width="1.4"/>
<text x="1411.50" y="343.10" font-family='"Liberation Sans", Arial, sans-serif' font-size="23.91" fill="#000" textLength="51.94" lengthAdjust="spacingAndGlyphs">10yo</text>
<rect x="1374.5" y="356.4" width="23.0" height="21.4" fill="#68aed6" stroke="#1a1a2a" stroke-width="1.4"/>
<text x="1411.82" y="374.50" font-family='"Liberation Sans", Arial, sans-serif' font-size="23.91" fill="#000" textLength="51.61" lengthAdjust="spacingAndGlyphs">47yo</text>
<rect x="1376.3" y="387.9" width="23.4" height="21.4" fill="#1b5b95" stroke="#1a1a2a" stroke-width="1.4"/>
<text x="1411.22" y="406.00" font-family='"Liberation Sans", Arial, sans-serif' font-size="23.91" fill="#000" textLength="52.23" lengthAdjust="spacingAndGlyphs">85yo</text>
</svg></body></html>
